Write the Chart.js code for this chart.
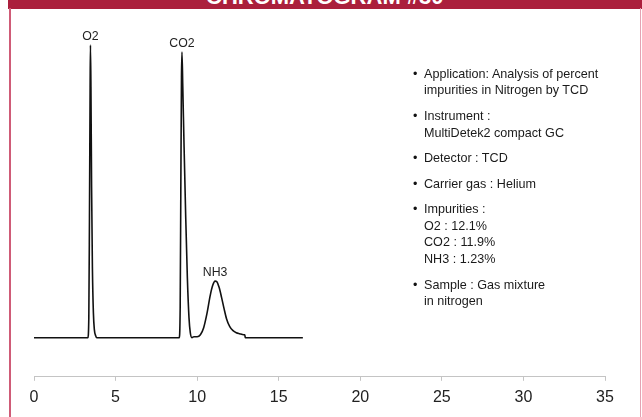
<!DOCTYPE html>
<html>
<head>
<meta charset="utf-8">
<script src="https://cdn.jsdelivr.net/npm/chart.js@4.4.1/dist/chart.umd.min.js"></script>
<style>
  body { margin: 0; background: #fff; font-family: "Liberation Sans", Arial, sans-serif; }
  #wrap { position: relative; width: 642px; height: 417px; overflow: hidden; }
  #chart { position: absolute; left: 0; top: 0; }
  #bar { position: absolute; left: 8px; top: 0; width: 634px; height: 9px; background: #ab1f3c; overflow: hidden; }
  #bar span { position: absolute; left: 198px; top: -14.3px; font: bold 22px/22px "Liberation Sans", Arial, sans-serif; color: #fff; white-space: nowrap; }
  #lb { position: absolute; left: 9px; top: 8px; width: 1.5px; height: 409px; background: #cf5b77; }
  #rb { position: absolute; left: 640px; top: 8px; width: 1px; height: 409px; background: #e4a3b3; }
  #info { position: absolute; left: 413px; top: 65.6px; font-size: 12.6px; line-height: 16.7px; color: #1a1a1a; }
  #info div { position: relative; padding-left: 11px; margin-bottom: 8.8px; white-space: nowrap; }
  #info div::before { content: "\2022"; position: absolute; left: 0; top: 0; color: #111; }
</style>
</head>
<body>
<div id="wrap">
  <canvas id="chart" width="642" height="417"></canvas>
  <div id="bar"><span>CHROMATOGRAM #30</span></div>
  <div id="lb"></div>
  <div id="rb"></div>
  <div id="info">
    <div>Application: Analysis of percent<br>impurities in Nitrogen by TCD</div>
    <div>Instrument :<br>MultiDetek2 compact GC</div>
    <div>Detector : TCD</div>
    <div>Carrier gas : Helium</div>
    <div>Impurities :<br>O2 : 12.1%<br>CO2 : 11.9%<br>NH3 : 1.23%</div>
    <div>Sample : Gas mixture<br>in nitrogen</div>
  </div>
</div>
<script>
// retention time (min) and detector signal
const times = [0, 3.30, 3.36, 3.40, 3.44, 3.46, 3.49, 3.53, 3.58, 3.64, 3.70, 3.78, 3.85,
  8.90, 8.96, 9.00, 9.04, 9.07, 9.12, 9.20, 9.30, 9.40, 9.50, 9.58, 9.68,
  9.80, 10.00, 10.20, 10.40, 10.60, 10.80, 10.95, 11.10, 11.20, 11.35, 11.50, 11.65, 11.80,
  12.00, 12.20, 12.40, 12.60, 12.85, 12.92, 12.95, 16.48];
const signal = [0, 0, 20, 120, 250, 292, 250, 150, 70, 25, 8, 2, 0,
  0, 30, 150, 260, 285, 250, 190, 120, 60, 20, 5, 0,
  1, 1, 3, 10, 24, 42, 52, 56.5, 56, 50, 40, 29, 19,
  11, 7, 5, 4, 3, 3, 0, 0];
const peakNames = ["O2", "CO2", "NH3"];
const peakTimes = [3.46, 9.07, 11.10];
const xTicks = [0, 5, 10, 15, 20, 25, 30, 35];

const points = times.map((t, i) => ({ x: t, y: signal[i] }));

const peakLabels = {
  id: "peakLabels",
  afterDatasetsDraw(c) {
    const ctx = c.ctx, xs = c.scales.x, ys = c.scales.y;
    ctx.save();
    ctx.font = "12.3px 'Liberation Sans', Arial, sans-serif";
    ctx.fillStyle = "#222";
    ctx.textAlign = "center";
    ctx.textBaseline = "middle";
    peakNames.forEach((n, i) => {
      const k = times.indexOf(peakTimes[i]);
      ctx.fillText(n, xs.getPixelForValue(times[k]), ys.getPixelForValue(signal[k]) - 8);
    });
    ctx.restore();
  }
};

new Chart(document.getElementById("chart"), {
  type: "scatter",
  data: {
    datasets: [{
      data: points,
      showLine: true,
      borderColor: "#111",
      borderWidth: 1.6,
      pointRadius: 0,
      cubicInterpolationMode: "monotone"
    }]
  },
  options: {
    responsive: false,
    animation: false,
    layout: { padding: { left: 34, right: 37, top: 36, bottom: 3 } },
    plugins: { legend: { display: false }, tooltip: { enabled: false } },
    scales: {
      x: {
        type: "linear",
        min: 0,
        max: 35,
        afterBuildTicks: s => { s.ticks = xTicks.map(v => ({ value: v })); },
        grid: { drawOnChartArea: false, tickLength: 4, color: "#c4c4c4" },
        border: { color: "#c4c4c4" },
        ticks: { padding: 7, color: "#222", font: { size: 16, family: "'Liberation Sans', Arial, sans-serif" } }
      },
      y: { display: false, min: -39, max: 301 }
    }
  },
  plugins: [peakLabels]
});
</script>
</body>
</html>
